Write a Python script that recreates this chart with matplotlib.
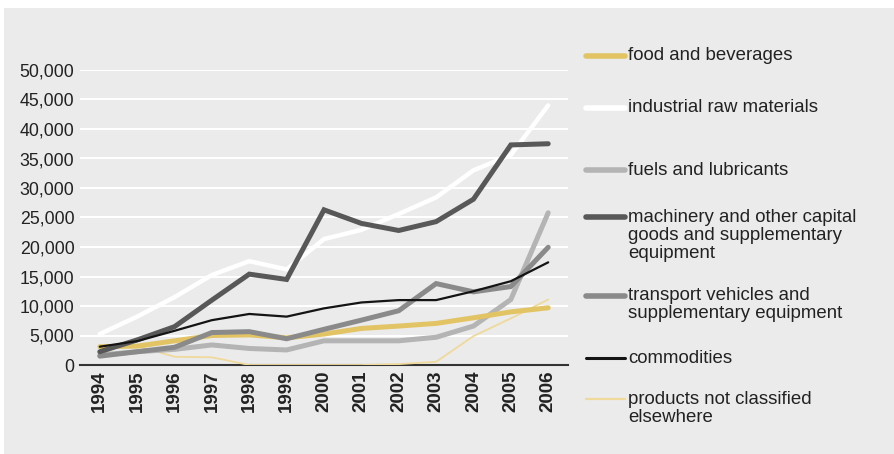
import matplotlib
matplotlib.use("Agg")
import matplotlib.pyplot as plt
from matplotlib.patches import Rectangle
from matplotlib.lines import Line2D

plt.rcParams['font.family'] = ['Liberation Sans', 'DejaVu Sans']

# data
years = ['1994', '1995', '1996', '1997', '1998', '1999', '2000',
         '2001', '2002', '2003', '2004', '2005', '2006']

food = [3100, 3200, 4100, 5000, 5100, 4600, 5250, 6200, 6600, 7050, 8000, 9000, 9700]
industrial = [5250, 8200, 11500, 15250, 17600, 16200, 21350, 22900, 25600, 28400, 33000, 35600, 44000]
fuels = [1700, 2250, 2650, 3400, 2800, 2550, 4100, 4100, 4100, 4700, 6600, 11100, 25800]
machinery = [2250, 4250, 6500, 11000, 15400, 14500, 26300, 24000, 22800, 24300, 28100, 37300, 37500]
transport = [1500, 2250, 3000, 5500, 5650, 4450, 6050, 7600, 9200, 13800, 12400, 13300, 19950]
commodities = [3100, 4050, 5800, 7600, 8650, 8200, 9600, 10600, 11000, 11000, 12500, 14200, 17400]
not_classified = [3200, 3200, 1400, 1300, 0, 0, 0, 0, 150, 550, 4900, 7900, 11100]

labels = ['food and beverages',
          'industrial raw materials',
          'fuels and lubricants',
          'machinery and other capital\ngoods and supplementary\nequipment',
          'transport vehicles and\nsupplementary equipment',
          'commodities',
          'products not classified\nelsewhere']

W, H = 894, 454
bg = '#ebebeb'
txt = '#222222'

fig = plt.figure(figsize=(W / 100, H / 100), dpi=100, facecolor='white')
fig.patches.append(Rectangle((4 / W, 0), 1, (H - 8) / H, transform=fig.transFigure,
                             facecolor=bg, edgecolor='none', zorder=-10))

ax = fig.add_axes([80 / W, (H - 365) / H, (568 - 80) / W, (365 - 70) / H])
ax.set_facecolor(bg)

x = list(range(len(years)))

# series: (values, colour, width, zorder)
series = [
    (not_classified, '#efd99b', 1.3, 2),
    (fuels, '#b4b4b4', 3.6, 3),
    (food, '#e2c465', 3.6, 4),
    (transport, '#8a8a8a', 3.6, 5),
    (industrial, '#ffffff', 3.2, 6),
    (machinery, '#585858', 3.6, 7),
    (commodities, '#141414', 1.6, 8),
]
for vals, col, lw, z in series:
    ax.plot(x, vals, color=col, lw=lw, zorder=z, solid_capstyle='round',
            solid_joinstyle='miter')

ax.set_xlim(-0.53, len(years) - 0.47)
ax.set_ylim(0, 50000)
ax.set_yticks(range(0, 50001, 5000))
ax.set_yticklabels([f'{v:,}' for v in range(0, 50001, 5000)])
ax.set_xticks(x)
ax.set_xticklabels(years, rotation=90, fontweight='bold', fontsize=13.5)
ax.yaxis.grid(True, color='white', lw=1.5, zorder=0)
ax.set_axisbelow(True)
for s in ['top', 'right', 'left']:
    ax.spines[s].set_visible(False)
ax.spines['bottom'].set_color('#333333')
ax.spines['bottom'].set_linewidth(1.5)
ax.spines['bottom'].set_zorder(1)
ax.tick_params(axis='both', length=0, colors=txt)
ax.tick_params(axis='y', pad=4, labelsize=12.8)
ax.tick_params(axis='x', pad=4)

# legend drawn by hand (uneven spacing in the original)
leg_y = [55.7, 107.7, 170.3, 217.3, 295.7, 358.3, 399.3]
leg_style = [('#e2c465', 4.0), ('#ffffff', 4.0), ('#b4b4b4', 4.0), ('#585858', 4.0),
             ('#8a8a8a', 4.0), ('#141414', 2.2), ('#efd99b', 1.6)]
for yy, (col, lw), lab in zip(leg_y, leg_style, labels):
    fy = (H - yy) / H
    fig.add_artist(Line2D([586 / W, 625 / W], [fy, fy], transform=fig.transFigure,
                          color=col, lw=lw, solid_capstyle='round'))
    fig.text(628 / W, (H - yy + 8.5) / H, lab, va='top', ha='left',
             fontsize=13.4, color=txt, linespacing=1.08)

fig.savefig('out.png', dpi=100, facecolor=fig.get_facecolor())
